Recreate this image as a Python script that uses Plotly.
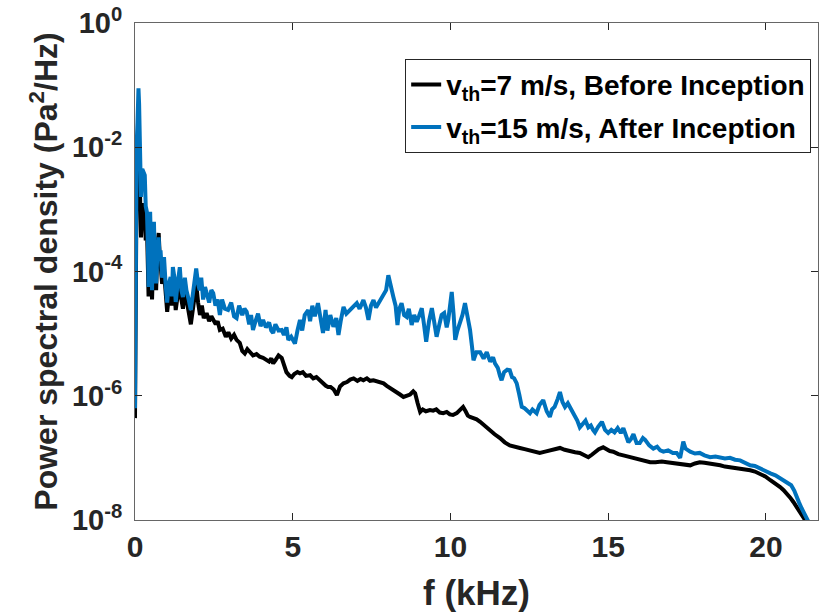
import plotly.graph_objects as go

# Frequency (kHz) and log10(PSD)
f_before = [0.00,0.02,0.05,0.08,0.11,0.13,0.16,0.19,0.23,0.27,0.31,0.34,0.38,0.41,0.43,0.46,0.48,0.51,0.54,0.57,
            0.60,0.63,0.67,0.71,0.75,0.78,0.81,0.86,0.92,0.97,1.02,1.07,1.13,1.17,1.20,1.25,1.29,1.35,1.42,1.47,
            1.52,1.58,1.63,1.70,1.77,1.85,1.94,2.00,2.06,2.12,2.18,2.27,2.35,2.42,2.48,2.56,2.62,2.69,2.78,2.88,
            2.96,3.05,3.14,3.22,3.32,3.40,3.48,3.56,3.65,3.74,3.85,3.95,4.06,4.15,4.25,4.32,4.38,4.45,4.55,4.65,
            4.72,4.80,4.90,4.97,5.05,5.15,5.23,5.32,5.42,5.55,5.65,5.75,5.86,5.95,6.05,6.12,6.20,6.30,6.40,6.50,
            6.61,6.72,6.82,6.93,7.05,7.15,7.24,7.35,7.45,7.56,7.66,7.78,7.88,7.98,8.08,8.19,8.30,8.40,8.51,8.62,
            8.72,8.82,8.88,8.96,9.04,9.12,9.22,9.35,9.45,9.55,9.66,9.77,9.88,9.98,10.08,10.20,10.30,10.40,10.48,10.55,
            10.62,10.72,10.83,10.94,11.05,11.15,11.26,11.40,11.57,11.72,11.88,12.05,12.20,12.35,12.50,12.66,12.83,13.00,13.15,13.30,
            13.47,13.62,13.80,13.95,14.10,14.25,14.37,14.48,14.58,14.70,14.84,14.95,15.05,15.16,15.32,15.48,15.64,15.80,15.95,16.10,
            16.33,16.50,16.70,16.86,17.05,17.28,17.45,17.60,17.75,17.90,18.05,18.23,18.40,18.55,18.70,18.86,19.02,19.18,19.35,19.50,
            19.65,19.80,19.98,20.14,20.30,20.45,20.56,20.66,20.77,20.87,20.98,21.08,21.16,21.24,21.30]
log_before = [-6.36,-2.70,-2.50,-2.20,-1.80,-2.10,-3.00,-3.45,-3.00,-2.90,-3.10,-3.50,-3.30,-3.80,-4.40,-3.70,-3.50,-4.10,-4.45,-3.90,
              -3.60,-4.00,-4.30,-3.60,-3.38,-3.70,-3.85,-4.20,-4.00,-4.35,-4.65,-4.40,-4.25,-4.55,-4.15,-4.30,-4.62,-4.40,-4.15,-4.45,
              -4.60,-4.30,-4.45,-4.62,-4.85,-4.55,-4.20,-4.50,-4.70,-4.55,-4.75,-4.67,-4.80,-4.72,-4.78,-4.85,-4.80,-4.94,-4.92,-5.05,
              -4.98,-5.08,-5.02,-5.10,-5.15,-5.28,-5.32,-5.25,-5.30,-5.35,-5.33,-5.37,-5.39,-5.42,-5.45,-5.40,-5.48,-5.43,-5.35,-5.39,
              -5.50,-5.62,-5.68,-5.70,-5.65,-5.62,-5.64,-5.62,-5.68,-5.67,-5.72,-5.70,-5.75,-5.80,-5.84,-5.86,-5.86,-5.90,-5.99,-5.85,
              -5.80,-5.78,-5.74,-5.72,-5.76,-5.73,-5.75,-5.72,-5.76,-5.75,-5.77,-5.78,-5.80,-5.84,-5.87,-5.91,-5.94,-5.98,-6.02,-6.00,
              -5.98,-5.93,-5.96,-6.12,-6.26,-6.22,-6.25,-6.23,-6.24,-6.22,-6.27,-6.28,-6.26,-6.30,-6.31,-6.28,-6.24,-6.18,-6.25,-6.32,
              -6.34,-6.36,-6.38,-6.42,-6.47,-6.51,-6.57,-6.62,-6.68,-6.75,-6.80,-6.83,-6.84,-6.86,-6.88,-6.90,-6.92,-6.90,-6.88,-6.87,
              -6.84,-6.87,-6.90,-6.91,-6.92,-6.95,-6.99,-6.95,-6.90,-6.86,-6.83,-6.86,-6.89,-6.90,-6.94,-6.96,-6.98,-7.00,-7.03,-7.04,
              -7.07,-7.07,-7.06,-7.07,-7.08,-7.09,-7.11,-7.12,-7.09,-7.07,-7.08,-7.09,-7.11,-7.12,-7.14,-7.15,-7.16,-7.17,-7.19,-7.20,
              -7.22,-7.25,-7.30,-7.36,-7.41,-7.47,-7.52,-7.57,-7.64,-7.71,-7.79,-7.87,-7.93,-8.00,-8.08]

f_after = [0.00,0.02,0.05,0.08,0.11,0.13,0.16,0.19,0.23,0.27,0.31,0.34,0.38,0.41,0.43,0.46,0.48,0.51,0.54,0.57,
           0.60,0.63,0.67,0.71,0.75,0.78,0.81,0.86,0.92,0.97,1.02,1.07,1.13,1.17,1.20,1.25,1.29,1.35,1.42,1.47,
           1.52,1.58,1.63,1.70,1.77,1.85,1.94,2.00,2.05,2.10,2.16,2.22,2.27,2.35,2.42,2.48,2.55,2.62,2.69,2.76,
           2.85,2.95,3.05,3.14,3.22,3.30,3.40,3.47,3.54,3.62,3.68,3.74,3.82,3.90,3.98,4.06,4.15,4.25,4.32,4.38,
           4.45,4.55,4.65,4.72,4.80,4.86,4.95,5.07,5.15,5.23,5.30,5.38,5.49,5.55,5.62,5.70,5.80,5.87,5.96,6.04,
           6.10,6.19,6.29,6.38,6.45,6.52,6.61,6.70,6.82,6.92,7.03,7.12,7.24,7.32,7.40,7.48,7.56,7.64,7.72,7.80,
           7.88,7.96,8.03,8.10,8.19,8.26,8.32,8.38,8.45,8.53,8.61,8.68,8.77,8.85,8.93,9.00,9.09,9.16,9.23,9.32,
           9.41,9.48,9.56,9.65,9.72,9.80,9.88,9.93,10.04,10.10,10.15,10.22,10.30,10.38,10.46,10.55,10.62,10.68,10.73,10.82,
           10.94,11.05,11.15,11.26,11.35,11.41,11.50,11.57,11.62,11.70,11.80,11.88,11.95,12.02,12.10,12.18,12.26,12.35,12.44,12.52,
           12.60,12.73,12.82,12.94,13.05,13.15,13.22,13.30,13.40,13.47,13.55,13.63,13.72,13.84,13.95,14.02,14.10,14.20,14.28,14.37,
           14.45,14.52,14.58,14.68,14.80,14.90,15.00,15.10,15.20,15.30,15.40,15.48,15.56,15.64,15.72,15.80,15.90,16.00,16.10,16.17,
           16.30,16.43,16.55,16.65,16.75,16.90,17.05,17.17,17.28,17.33,17.38,17.45,17.60,17.75,17.90,18.05,18.23,18.40,18.55,18.70,
           18.86,19.02,19.18,19.35,19.50,19.65,19.80,19.95,20.14,20.30,20.45,20.62,20.80,20.90,20.97,21.05,21.13,21.22,21.29,21.37]
log_after = [-6.20,-2.10,-2.00,-1.60,-1.05,-1.30,-2.50,-2.80,-2.35,-2.40,-2.45,-2.95,-3.05,-3.60,-4.25,-3.30,-3.04,-3.70,-4.30,-3.50,
             -3.20,-3.80,-4.19,-3.70,-3.45,-3.80,-3.66,-4.10,-3.77,-4.20,-4.50,-4.20,-4.09,-4.40,-3.93,-4.10,-4.49,-4.20,-3.93,-4.30,
             -4.41,-4.10,-4.30,-4.45,-4.62,-4.30,-3.95,-4.20,-4.30,-4.10,-4.45,-4.25,-4.33,-4.50,-4.30,-4.35,-4.55,-4.45,-4.70,-4.45,
             -4.60,-4.62,-4.50,-4.72,-4.75,-4.55,-4.70,-4.60,-4.65,-4.85,-4.70,-4.94,-4.80,-4.68,-4.88,-4.78,-4.90,-4.82,-4.95,-4.99,
             -4.85,-4.95,-4.94,-5.02,-4.90,-5.10,-5.05,-5.16,-4.95,-4.78,-4.95,-4.70,-4.62,-4.80,-4.55,-4.72,-4.51,-4.73,-4.99,-4.62,
             -4.95,-4.70,-4.89,-4.75,-5.02,-4.80,-4.57,-4.68,-4.62,-4.55,-4.51,-4.60,-4.46,-4.58,-4.78,-4.55,-4.46,-4.58,-4.51,-4.45,
             -4.38,-4.30,-4.06,-4.25,-4.41,-4.55,-4.86,-4.60,-4.51,-4.70,-4.73,-4.60,-4.86,-4.70,-4.81,-4.72,-4.59,-4.85,-5.13,-4.80,
             -4.59,-4.80,-5.05,-4.85,-4.70,-4.67,-4.90,-4.78,-4.33,-4.70,-5.10,-4.95,-4.83,-4.70,-4.51,-4.75,-4.94,-5.20,-5.43,-5.30,
             -5.30,-5.40,-5.30,-5.45,-5.38,-5.48,-5.55,-5.68,-5.75,-5.62,-5.58,-5.59,-5.70,-5.72,-5.80,-5.98,-6.18,-6.20,-6.25,-6.28,
             -6.22,-6.28,-6.15,-6.07,-6.25,-6.34,-6.22,-6.18,-6.05,-5.94,-6.10,-6.18,-6.12,-6.23,-6.35,-6.40,-6.51,-6.45,-6.40,-6.51,
             -6.48,-6.55,-6.59,-6.50,-6.42,-6.55,-6.60,-6.55,-6.59,-6.52,-6.60,-6.52,-6.65,-6.75,-6.70,-6.62,-6.76,-6.76,-6.68,-6.71,
             -6.80,-6.85,-6.82,-6.88,-6.90,-6.88,-6.92,-6.92,-7.00,-6.85,-6.74,-6.85,-6.90,-6.93,-6.92,-6.96,-6.99,-6.98,-7.00,-7.01,
             -7.00,-7.03,-7.04,-7.08,-7.12,-7.13,-7.17,-7.20,-7.25,-7.28,-7.33,-7.38,-7.44,-7.53,-7.63,-7.72,-7.81,-7.90,-7.97,-8.05]

series_names = ["v<sub>th</sub>=7 m/s, Before Inception", "v<sub>th</sub>=15 m/s, After Inception"]
y_tick_exponents = [-8, -6, -4, -2, 0]
x_tick_values = [0, 5, 10, 15, 20]

FONT = "Arial, Liberation Sans, Helvetica, sans-serif"
AXC = "#262626"

fig = go.Figure()
fig.add_trace(go.Scatter(x=f_before, y=[10 ** v for v in log_before], mode="lines",
                         name=series_names[0], legendgroup="a",
                         line=dict(color="#000000", width=4)))
fig.add_trace(go.Scatter(x=f_after, y=[10 ** v for v in log_after], mode="lines",
                         name=series_names[1], legendgroup="b",
                         line=dict(color="#0072BD", width=4)))

fig.update_layout(
    width=820, height=614,
    margin=dict(l=135, r=2, t=23, b=94),
    paper_bgcolor="white", plot_bgcolor="white",
    font=dict(family=FONT, color=AXC),
    showlegend=True,
    legend=dict(x=0.99, y=0.928, xanchor="right", yanchor="top",
                bgcolor="white", bordercolor="#262626", borderwidth=1,
                font=dict(family=FONT, size=28, color="#000000", weight="bold"),
                tracegroupgap=3, itemwidth=30),
)
fig.update_xaxes(
    range=[0, 21.65], tickvals=x_tick_values, ticktext=[str(v) for v in x_tick_values],
    ticks="inside", ticklen=7, tickcolor=AXC, showline=True, linecolor="#666666", linewidth=1,
    mirror="ticks", showgrid=False, zeroline=False,
    tickfont=dict(family=FONT, size=30, color=AXC, weight="bold"),
    title=dict(text="f (kHz)", font=dict(family=FONT, size=35, color=AXC, weight="bold"), standoff=18),
)
fig.update_yaxes(
    type="log", range=[-8, 0],
    tickvals=[10 ** e for e in y_tick_exponents],
    ticktext=["10<sup>%d</sup>" % e for e in y_tick_exponents],
    ticks="inside", ticklen=7, tickcolor=AXC, showline=True, linecolor="#666666", linewidth=1,
    mirror="ticks", showgrid=False, zeroline=False, ticklabelstandoff=6,
    tickfont=dict(family=FONT, size=29, color=AXC, weight="bold"),
    title=dict(text="Power spectral density (Pa<sup>2</sup>/Hz)",
               font=dict(family=FONT, size=32, color=AXC, weight="bold"), standoff=4),
)

fig.write_html("out.html")
